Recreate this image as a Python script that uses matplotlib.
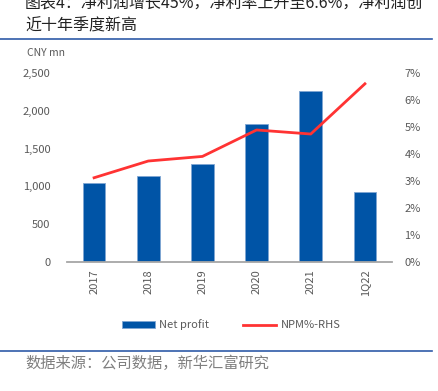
import matplotlib
matplotlib.use('Agg')
from matplotlib import pyplot as plt
from matplotlib.lines import Line2D
from matplotlib.patches import Patch

plt.rcParams['font.family'] = ['Noto Sans CJK SC', 'DejaVu Sans']

categories = ['2017', '2018', '2019', '2020', '2021', '1Q22']
net_profit = [1040, 1140, 1290, 1820, 2260, 920]
npm_pct = [3.12, 3.74, 3.91, 4.89, 4.74, 6.6]

left_ticks = [0, 500, 1000, 1500, 2000, 2500]
right_ticks = [0, 1, 2, 3, 4, 5, 6, 7]

title_line1 = '图表4：净利润增长45%，净利率上升至6.6%，净利润创'
title_line2 = '近十年季度新高'
source_text = '数据来源：公司数据，新华汇富研究'

bar_color = '#0054A6'
line_color = '#FF3333'
text_color = '#595959'

W, H = 439, 391
fig = plt.figure(figsize=(W / 100, H / 100), dpi=100)

def px(x, y):
    return x / W, 1 - y / H

ax = fig.add_axes([67 / W, 1 - 262 / H, (392 - 67) / W, (262 - 73) / H])
x = list(range(len(categories)))
ax.bar(x, net_profit, width=0.42, color=bar_color, edgecolor='#7FA6D3', linewidth=0.6, zorder=2)
ax.set_xlim(-0.5, len(categories) - 0.5)
ax.set_ylim(0, 2500)
ax.set_yticks(left_ticks)
ax.set_yticklabels([f'{v:,}' for v in left_ticks])
ax.set_xticks(x)
ax.set_xticklabels(categories, rotation=90)
ax.tick_params(length=0, labelsize=8, colors=text_color)
ax.tick_params(axis='y', pad=12)
ax.tick_params(axis='x', pad=5)
for s in ['top', 'right', 'left']:
    ax.spines[s].set_visible(False)
ax.spines['bottom'].set_color('#A6A6A6')
ax.spines['bottom'].set_linewidth(1.3)

ax2 = ax.twinx()
ax2.plot(x, npm_pct, color=line_color, linewidth=2, zorder=3)
ax2.set_ylim(0, 7)
ax2.set_yticks(right_ticks)
ax2.set_yticklabels([f'{v}%' for v in right_ticks])
ax2.tick_params(length=0, labelsize=8, colors=text_color, pad=9)
for s in ['top', 'right', 'left', 'bottom']:
    ax2.spines[s].set_visible(False)

handles = [Patch(facecolor=bar_color, edgecolor='#7FA6D3', linewidth=0.6),
           Line2D([0], [0], color=line_color, linewidth=2)]
fig.legend(handles, ['Net profit', 'NPM%-RHS'], loc='center', bbox_to_anchor=px(231, 325),
           ncol=2, frameon=False, fontsize=8, labelcolor=text_color,
           handlelength=3.0, handleheight=0.6, columnspacing=3.0, handletextpad=0.4)

fig.text(*px(27, 53), 'CNY mn', fontsize=7.5, color=text_color, va='center', ha='left')

fig.text(*px(25, 4), title_line1, fontsize=11.5, color='#222222', va='center', ha='left')
fig.text(*px(25, 26), title_line2, fontsize=11.5, color='#222222', va='center', ha='left')
fig.text(*px(25, 363), source_text, fontsize=11, color='#7F7F7F', va='center', ha='left')

fig.add_artist(Line2D([0, 432 / W], [1 - 39 / H] * 2, color='#2F5BA8', linewidth=1.2))
fig.add_artist(Line2D([0, 432 / W], [1 - 351 / H] * 2, color='#2F5BA8', linewidth=1.2))

fig.savefig('out.png', dpi=100)
